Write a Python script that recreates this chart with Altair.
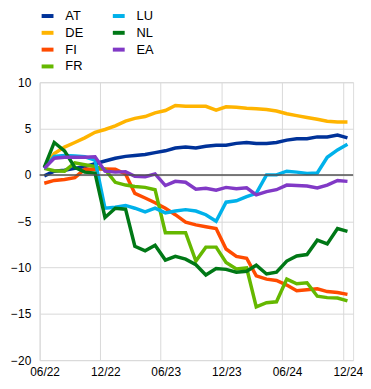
import altair as alt
import pandas as pd

# monthly observations (mid-month), June 2022 .. December 2024
months = [f"{2022 + (5 + i) // 12}-{(5 + i) % 12 + 1:02d}-15" for i in range(31)]

AT = [-0.1, 0.4, 0.5, 0.7, 0.9, 1.2, 1.5, 1.8, 2.0, 2.1, 2.2, 2.4, 2.6, 2.9, 3.0, 2.9,
      3.1, 3.2, 3.2, 3.4, 3.5, 3.4, 3.4, 3.5, 3.75, 3.9, 3.9, 4.1, 4.1, 4.3, 4.0]
DE = [0.8, 2.3, 3.0, 3.5, 4.0, 4.6, 4.9, 5.3, 5.8, 6.1, 6.3, 6.7, 6.95, 7.5, 7.4, 7.4,
      7.4, 7.0, 7.35, 7.3, 7.2, 7.15, 7.05, 6.9, 6.6, 6.4, 6.2, 6.0, 5.8, 5.7, 5.7]
FI = [-0.9, -0.6, -0.5, -0.3, 0.6, 0.6, 0.65, 0.6, 0.1, -2.0, -2.5, -3.0, -3.6, -4.3, -5.1, -5.4,
      -5.6, -5.8, -8.0, -8.8, -9.0, -10.9, -11.25, -11.4, -11.9, -12.5, -12.4, -12.3, -12.6, -12.7, -12.9]
FR = [0.7, 0.45, 0.4, 1.3, 1.1, 0.9, 0.6, -0.8, -1.1, -1.25, -1.35, -1.6, -6.25, -6.25, -6.25, -9.3,
      -7.8, -7.8, -9.45, -10.15, -10.05, -14.25, -13.8, -13.7, -11.25, -11.75, -11.65, -13.1, -13.25, -13.3, -13.6]
LU = [0.7, 2.0, 2.1, 2.05, 1.95, 1.6, -3.6, -3.5, -3.3, -3.6, -4.0, -3.6, -4.1, -3.9, -3.75, -3.9,
      -4.3, -5.0, -2.95, -2.8, -2.35, -2.0, 0.0, 0.0, 0.4, 0.3, 0.15, 0.2, 1.9, 2.7, 3.3]
NL = [0.8, 3.5, 2.6, 0.8, 0.3, 0.2, -4.6, -3.6, -3.7, -7.7, -8.2, -7.6, -9.2, -8.8, -9.1, -9.7,
      -10.8, -10.1, -10.2, -10.5, -10.4, -9.75, -10.7, -10.5, -9.3, -8.75, -8.6, -7.05, -7.45, -5.8, -6.1]
EA = [0.7, 1.8, 1.9, 1.9, 1.9, 1.95, 0.4, 0.3, 0.35, -0.15, -0.2, 0.1, -1.15, -0.7, -0.8, -1.55,
      -1.45, -1.65, -1.35, -1.5, -1.4, -2.15, -1.8, -1.6, -1.1, -1.15, -1.2, -1.4, -1.1, -0.6, -0.7]

series = {"AT": AT, "DE": DE, "FI": FI, "FR": FR, "LU": LU, "NL": NL, "EA": EA}
colors = {"AT": "#003299", "DE": "#FFB400", "FI": "#FF4B00", "FR": "#65B800",
          "LU": "#00B1EA", "NL": "#007816", "EA": "#8139C6"}
legend_order = ["AT", "DE", "FI", "FR", "LU", "NL", "EA"]
tick_dates = [(2022, 6), (2022, 12), (2023, 6), (2023, 12), (2024, 6), (2024, 12)]
y_ticks = [-20, -15, -10, -5, 0, 5, 10]

rows = []
for name, vals in series.items():
    for i, (d, v) in enumerate(zip(months, vals)):
        rows.append({"date": d, "country": name, "value": v, "order": i})
df = pd.DataFrame(rows)

FONT = "Liberation Sans"
GRID = "#d9d9d9"

x_enc = alt.X(
    "date:T",
    scale=alt.Scale(type="utc",
                    domain=[alt.DateTime(year=2022, month=6, date=1, utc=True),
                            alt.DateTime(year=2025, month=1, date=1, utc=True)]),
    axis=alt.Axis(
        values=[alt.DateTime(year=y, month=m, date=1, utc=True) for y, m in tick_dates],
        labelExpr="utcFormat(datum.value, '%m/%y')",
        grid=True, gridColor=GRID, gridWidth=1,
        ticks=False, tickSize=0, domain=False,
        labelPadding=7, labelOffset=5, labelFlush=False, labelOverlap=False,
        labelFont=FONT, labelFontSize=12, labelColor="#000000",
        title=None,
    ),
)
y_enc = alt.Y(
    "value:Q",
    scale=alt.Scale(domain=[-20, 10], nice=False),
    axis=alt.Axis(
        values=y_ticks, grid=True, gridColor=GRID, gridWidth=1,
        ticks=False, tickSize=0, domain=False, labelPadding=9,
        labelFont=FONT, labelFontSize=12, labelColor="#000000",
        title=None,
    ),
)

zero = alt.Chart(pd.DataFrame({"value": [0]})).mark_rule(
    color="#505050", strokeWidth=1.5
).encode(y=alt.Y("value:Q", scale=alt.Scale(domain=[-20, 10], nice=False)))

lines = alt.Chart(df).mark_line(strokeWidth=3.5).encode(
    x=x_enc,
    y=y_enc,
    order="order:Q",
    color=alt.Color(
        "country:N",
        scale=alt.Scale(domain=legend_order, range=[colors[c] for c in legend_order]),
        legend=alt.Legend(
            orient="none", legendX=0, legendY=-75, columns=2, title=None,
            symbolType="stroke", symbolSize=144, symbolStrokeWidth=4,
            labelFont=FONT, labelFontSize=13, labelColor="#000000",
            labelOffset=10, columnPadding=21, rowPadding=1, padding=0,
        ),
    ),
)

chart = alt.layer(lines, zero).properties(
    width=317, height=281,
    autosize=alt.AutoSizeParams(type="none"),
    padding={"left": 32, "top": 73, "right": 10, "bottom": 19},
).configure_view(strokeOpacity=0).configure(background="white")

chart.save("out.html", embed_options={"renderer": "svg", "actions": False})
